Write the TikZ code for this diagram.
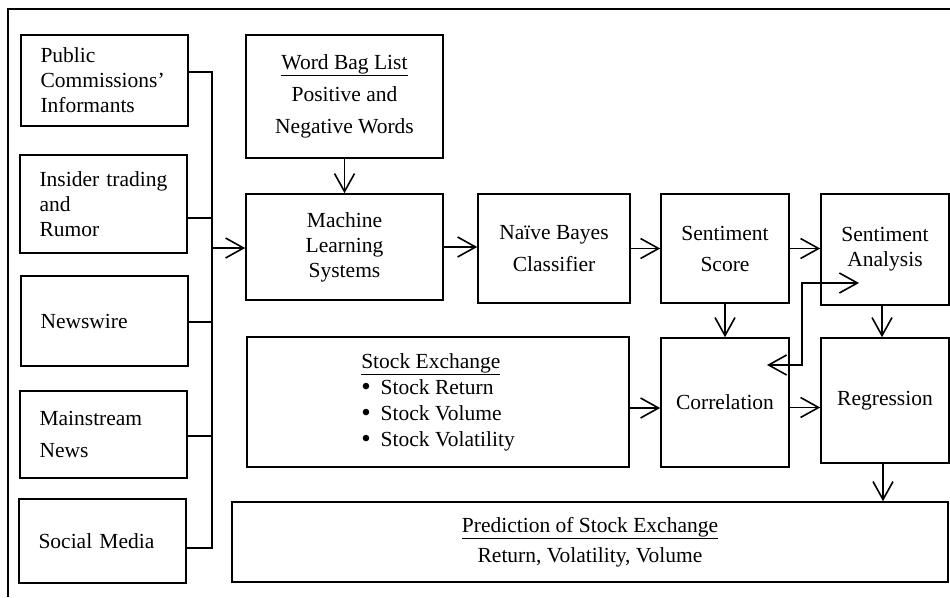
\documentclass[tikz,border=0pt]{standalone}
\usepackage{fontspec}
\setmainfont{Liberation Serif}
\usetikzlibrary{arrows.meta}
\newcommand{\bul}{{\fontsize{27pt}{26pt}\selectfont\raisebox{-1pt}{\textbullet}}\hspace{10pt}}
\begin{document}
\begin{tikzpicture}[x=1pt,y=-1pt,
  box/.style={draw, line width=1.6pt, inner sep=0pt, align=center, font=\fontsize{21.5pt}{25pt}\selectfont},
  lbox/.style={box, minimum width=167pt, text width=128pt, align=left},
  conn/.style={line width=1.5pt},
  tip/.tip={Straight Barb[length=18pt,width=20pt,line width=1.6pt]},
  arr/.style={line width=1.6pt, -tip},
  darr/.style={line width=1.6pt, tip-tip}]
\useasboundingbox (0,0) rectangle (950,597);
% frame
\coordinate (fl) at (8,597);
\coordinate (fc) at (8,9);
\coordinate (fr) at (952,9);
\draw[line width=2pt] (fl) -- (fc) -- (fr);
% left sources
\node[lbox, minimum height=91pt] (pub) at (104.5,80.5) {Public\\Commissions’\\Informants};
\node[lbox, minimum height=98pt] (ins) at (103.5,204) {Insider trading\\and\\Rumor};
\node[lbox, minimum height=90pt] (nws) at (104.5,321) {Newswire};
\node[lbox, minimum height=87pt, font=\fontsize{21.5pt}{32pt}\selectfont] (msn) at (103.5,434.5) {Mainstream\\News};
\node[lbox, minimum height=84pt] (soc) at (102.5,541) {Social Media};
% main boxes
\node[box, minimum width=197pt, minimum height=123pt, font=\fontsize{21.5pt}{32pt}\selectfont] (wbl) at (344.5,96.5) {\underline{Word Bag List}\\Positive and\\Negative Words};
\node[box, minimum width=197pt, minimum height=106pt] (mls) at (344.5,247) {Machine\\Learning\\Systems};
\node[box, minimum width=152pt, minimum height=109pt, font=\fontsize{21.5pt}{32pt}\selectfont] (nbc) at (554,248.5) {Naïve Bayes\\Classifier};
\node[box, minimum width=128pt, minimum height=109pt, font=\fontsize{21.5pt}{31pt}\selectfont] (ssc) at (725,248.5) {Sentiment\\Score};
\node[box, minimum width=128pt, minimum height=111pt] (san) at (885,249.5) {Sentiment\\Analysis};
\node[box, minimum width=382pt, minimum height=130pt, align=left, font=\fontsize{21.5pt}{26pt}\selectfont] (stk) at (438,402) {\underline{Stock Exchange}\\\bul Stock Return\\\bul Stock Volume\\\bul Stock Volatility};
\node[box, minimum width=128pt, minimum height=129pt] (cor) at (725,402.5) {Correlation};
\node[box, minimum width=128pt, minimum height=125pt] (reg) at (885,400.5) {Regression};
\node[box, minimum width=716pt, minimum height=80pt, font=\fontsize{21.5pt}{30pt}\selectfont] (prd) at (590,542) {\underline{Prediction of Stock Exchange}\\Return, Volatility, Volume};
% bus
\coordinate (busx) at (212,0);
\coordinate (p1) at ([yshift=8.5pt]pub.east);
\coordinate (p2) at ([yshift=-14pt]ins.east);
\coordinate (p3) at ([yshift=-1pt]nws.east);
\coordinate (p4) at ([yshift=-1.5pt]msn.east);
\coordinate (p5) at ([yshift=-7pt]soc.east);
\draw[conn] (p1) -- (p1 -| busx) -- (p5 -| busx) -- (p5);
\draw[conn] (p2) -- (p2 -| busx);
\draw[conn] (p3) -- (p3 -| busx);
\draw[conn] (p4) -- (p4 -| busx);
\draw[arr] ([yshift=-1pt]mls.west -| busx) -- ([yshift=-1pt]mls.west);
% flow
\draw[arr] (wbl.south) -- (mls.north);
\draw[arr] (mls.east) -- (mls.east -| nbc.west);
\draw[arr] (nbc.east) -- (nbc.east -| ssc.west);
\draw[arr] (ssc.east) -- (ssc.east -| san.west);
\draw[arr] (ssc.south) -- (cor.north);
\draw[arr] ([xshift=-3pt]san.south) -- ([xshift=-3pt]san.south |- reg.north);
\draw[arr] ([yshift=-6pt]stk.east) -- ([yshift=-6pt]stk.east -| cor.west);
\draw[arr] ([yshift=-5pt]cor.east) -- ([yshift=-5pt]cor.east -| reg.west);
\draw[arr] ([xshift=-2pt]reg.south) -- ([xshift=-2pt]reg.south |- prd.north);
% double arrow
\coordinate (dl) at (767,365);
\coordinate (dm) at (802,365);
\coordinate (dr) at (859,283);
\draw[darr] (dl) -- (dm) |- (dr);
\end{tikzpicture}
\end{document}
